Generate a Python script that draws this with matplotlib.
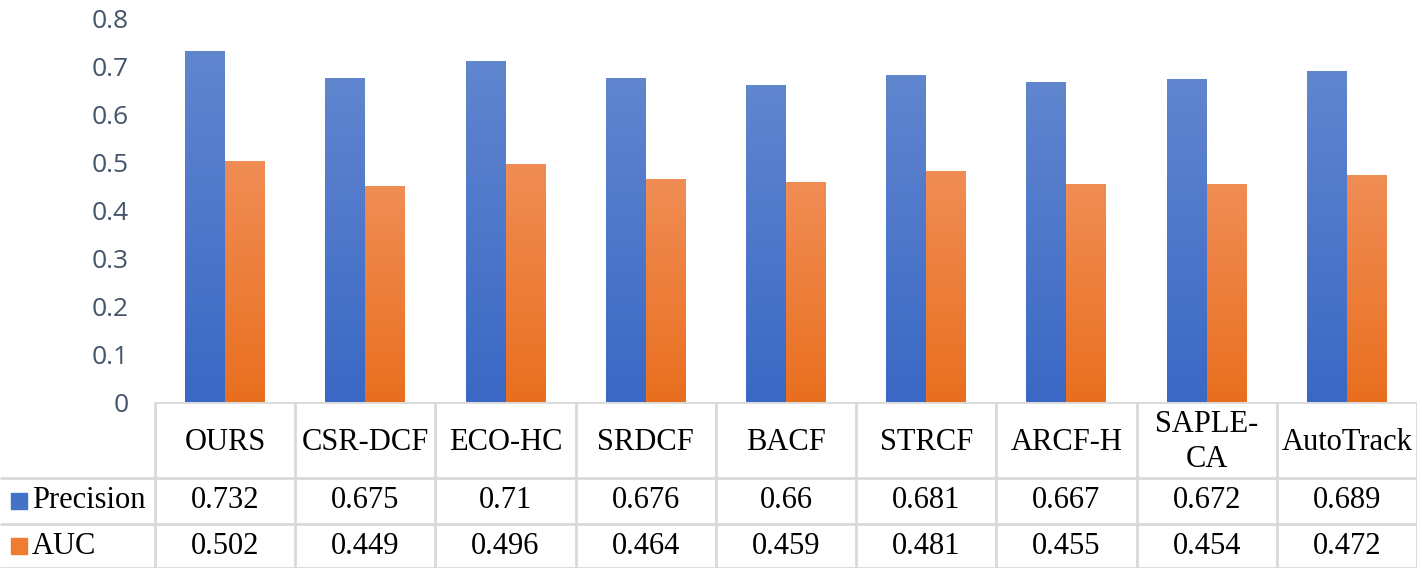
import numpy as np
import matplotlib.pyplot as plt
from matplotlib.colors import LinearSegmentedColormap

trackers = ['OURS', 'CSR-DCF', 'ECO-HC', 'SRDCF', 'BACF', 'STRCF', 'ARCF-H', 'SAPLE-\nCA', 'AutoTrack']
precision = [0.732, 0.675, 0.71, 0.676, 0.66, 0.681, 0.667, 0.672, 0.689]
auc = [0.502, 0.449, 0.496, 0.464, 0.459, 0.481, 0.455, 0.454, 0.472]
prec_text = ['0.732', '0.675', '0.71', '0.676', '0.66', '0.681', '0.667', '0.672', '0.689']
auc_text = ['0.502', '0.449', '0.496', '0.464', '0.459', '0.481', '0.455', '0.454', '0.472']
yticks = [0, 0.1, 0.2, 0.3, 0.4, 0.5, 0.6, 0.7, 0.8]

W, H = 1422, 572
fig = plt.figure(figsize=(W / 100, H / 100), dpi=100)
ax = fig.add_axes([155 / W, (H - 402) / H, (1417 - 155) / W, (402 - 18) / H])

blue_cm = LinearSegmentedColormap.from_list('b', ['#3a68c4', '#6186cf'])
orange_cm = LinearSegmentedColormap.from_list('o', ['#e96f1f', '#f08d55'])

x = np.arange(len(trackers))
bw = 0.285


def grad_bars(xs, vals, cmap):
    bars = ax.bar(xs, vals, bw, align='edge', color='none', linewidth=0)
    grad = np.linspace(0, 1, 256).reshape(-1, 1)
    for b in bars:
        x0, w, h = b.get_x(), b.get_width(), b.get_height()
        im = ax.imshow(grad, cmap=cmap, origin='lower', aspect='auto',
                       extent=[x0, x0 + w, 0, h], zorder=2)
        im.set_clip_path(b)
    return bars


grad_bars(x - bw, precision, blue_cm)
grad_bars(x, auc, orange_cm)

ax.set_xlim(-0.5, len(trackers) - 0.5)
ax.set_ylim(0, 0.8)
ax.set_yticks(yticks)
ax.set_yticklabels(['0' if t == 0 else f'{t:.1f}' for t in yticks],
                   fontsize=19, color='#44546a', family='Open Sans')
ax.tick_params(axis='y', length=0, pad=19)
ax.set_xticks([])
for s in ax.spines.values():
    s.set_visible(False)

# data table under the chart
tab = fig.add_axes([0, 4 / H, 1417 / W, 166 / H])
colw = (1417 - 155) / len(trackers)
left = -0.5 - 155 / colw
tab.set_xlim(left, len(trackers) - 0.5)
tab.set_ylim(166, 0)
tab.axis('off')

lc = '#d9d9d9'
lw = 2
rows = [0, 76, 122, 166]
tab.hlines(rows[0], -0.5, len(trackers) - 0.5, color=lc, lw=lw)
for r in rows[1:]:
    tab.hlines(r, left, len(trackers) - 0.5, color=lc, lw=lw)
for i in range(len(trackers) + 1):
    tab.vlines(i - 0.5, 0, 166, color=lc, lw=lw)

serif = 'Liberation Serif'
fs = 22
for i, name in enumerate(trackers):
    tab.text(i, 40, name, ha='center', va='center', fontsize=fs, family=serif,
             linespacing=1.25)
    tab.text(i, 99, prec_text[i], ha='center', va='center', fontsize=fs, family=serif)
    tab.text(i, 144, auc_text[i], ha='center', va='center', fontsize=fs, family=serif)

kx = left + 11 / colw
tx = left + 32 / colw
tab.add_patch(plt.Rectangle((kx, 99 - 8), 16 / colw, 16, color='#4472c4'))
tab.add_patch(plt.Rectangle((kx, 144 - 8), 16 / colw, 16, color='#ed7d31'))
tab.text(tx, 99, 'Precision', ha='left', va='center', fontsize=fs, family=serif)
tab.text(tx, 144, 'AUC', ha='left', va='center', fontsize=fs, family=serif)

fig.savefig('out.png', dpi=100)
